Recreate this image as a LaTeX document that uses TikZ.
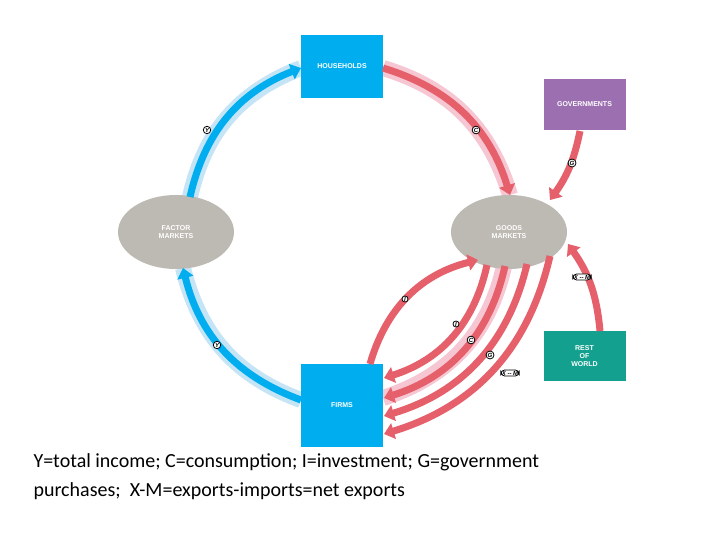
\documentclass[tikz,border=0pt]{standalone}
\usepackage{fontspec}
\setmainfont{Carlito}
\newfontfamily\lblfont{Liberation Sans}
\usetikzlibrary{arrows.meta,shapes.geometric}
\definecolor{cy}{HTML}{00AEEF}
\definecolor{cyl}{HTML}{C5E4F5}
\definecolor{rd}{HTML}{E5606A}
\definecolor{rdl}{HTML}{F6C6D3}
\definecolor{gr}{HTML}{BDBAB4}
\definecolor{pu}{HTML}{9B6FB0}
\definecolor{te}{HTML}{13A08E}
\begin{document}
\begin{tikzpicture}[x=1pt,y=-1pt,
  box/.style={draw=none,minimum width=82pt,text=white,font=\lblfont\bfseries\fontsize{7}{8}\selectfont,align=center},
  mkt/.style={ellipse,fill=gr,minimum width=116pt,minimum height=74pt,text=white,font=\lblfont\bfseries\fontsize{7}{8}\selectfont,align=center},
  halob/.style={cyl,line width=16pt},
  halor/.style={rdl,line width=16pt},
  flowb/.style={cy,line width=7pt,-{Triangle[length=10pt,width=16pt]}},
  flowr/.style={rd,line width=7pt,-{Triangle[length=10pt,width=16pt]}},
  tag/.style={circle,draw=black,fill=white,inner sep=0.6pt,line width=0.8pt,font=\lblfont\bfseries\itshape\fontsize{6}{6}\selectfont},
  otag/.style={rounded corners=4pt,draw=black,fill=white,inner sep=1pt,line width=0.8pt,font=\lblfont\bfseries\itshape\fontsize{6}{6}\selectfont}]
\useasboundingbox (0,0) rectangle (720,540);
\fill[white] (0,0) rectangle (720,540);
% coordinates
\coordinate (fmt) at (190,197); \coordinate (hl) at (301,68);
\coordinate (hr) at (383,68); \coordinate (gmt) at (510,195);
\coordinate (flb) at (301,400); \coordinate (fmb) at (183,268);
% halos
\draw[halob] (fmt) to[bend left=28] (hl);
\draw[halob] (flb) to[bend left=28] (fmb);
\draw[halor] (hr) to[bend left=28] (gmt);
\draw[halor] (505,262) to[bend left=30] (383,398);
% nodes
\node[mkt] (fm) at (176,232) {FACTOR\\MARKETS};
\node[mkt] (gm) at (509,232) {GOODS\\MARKETS};
\node[box,fill=cy,minimum height=63pt] (hh) at (342,66.5) {HOUSEHOLDS};
\node[box,fill=cy,minimum height=83pt] (fi) at (342,405.5) {FIRMS};
\node[box,fill=pu,minimum height=51pt] (gv) at (584.5,104.5) {GOVERNMENTS};
\node[box,fill=te,minimum height=50pt] (rw) at (584.5,356) {REST\\OF\\WORLD};
% flows
\draw[flowb] (fmt) to[bend left=28] (hl);
\draw[flowb] (flb) to[bend left=28] (fmb);
\draw[flowr] (hr) to[bend left=28] (gmt);
\coordinate (gvb) at (580,131); \coordinate (gmr) at (550,200);
\draw[flowr] (gvb) to[bend left=12] (gmr);
\coordinate (rwt) at (600,331); \coordinate (gmr2) at (568,244);
\draw[flowr] (rwt) to[bend right=15] (gmr2);
\coordinate (fit) at (370,364); \coordinate (gml) at (478,260);
\draw[flowr] (fit) to[bend left=30] (gml);
\coordinate (s1) at (487,265); \coordinate (e1) at (384,378);
\coordinate (s2) at (505,266); \coordinate (e2) at (384,398);
\coordinate (s3) at (527,264); \coordinate (e3) at (384,416);
\coordinate (s4) at (550,256); \coordinate (e4) at (384,434);
\draw[flowr] (s1) to[bend left=30] (e1);
\draw[flowr] (s2) to[bend left=30] (e2);
\draw[flowr] (s3) to[bend left=30] (e3);
\draw[flowr] (s4) to[bend left=30] (e4);
% tags
\node[tag] (t1) at (207,130) {Y};
\node[tag] (t2) at (217,345) {Y};
\node[tag] (t3) at (476,130) {C};
\node[tag] (t4) at (572,163) {G};
\node[otag] (t5) at (582,277) {X -- M};
\node[tag] (t6) at (405,299) {I};
\node[tag] (t7) at (456,324) {I};
\node[tag] (t8) at (471,340) {C};
\node[tag] (t9) at (490,355) {G};
\node[otag] (t10) at (510,373) {X -- M};
% caption
\node[anchor=west,font=\fontsize{20}{29}\selectfont,align=left] (cap) at (30,477) {Y=total income; C=consumption; I=investment; G=government\\purchases;\ \ X-M=exports-imports=net exports};
\end{tikzpicture}
\end{document}
